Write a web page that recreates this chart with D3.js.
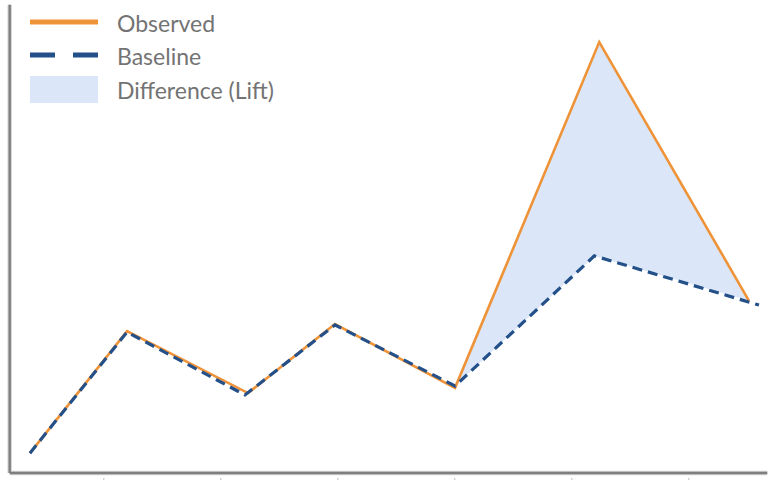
<!DOCTYPE html>
<html>
<head>
<meta charset="utf-8">
<script src="https://cdn.jsdelivr.net/npm/d3@7"></script>
<style>
  body { margin: 0; background: #fff; }
  svg { display: block; }
</style>
</head>
<body>
<svg id="svg"></svg>
<script>
// Values (x in tick units, y in percent of plot height)
const observedX = [0.373, 1.203, 2.237, 2.98, 4.006, 5.239, 6.519];
const observedY = [4.2, 30.0, 16.9, 31.5, 18.0, 91.1, 36.4];
const baselineX = [0.373, 1.203, 2.211, 2.98, 4.006, 5.197, 6.604];
const baselineY = [4.2, 29.8, 16.5, 31.3, 18.4, 45.9, 35.5];
const liftStart = 4; // lift area begins at the fifth point
const tickValues = [1, 2, 3, 4, 5, 6];
const legendLabels = ["Observed", "Baseline", "Difference (Lift)"];

const width = 777;
const height = 481;

const svg = d3.select("#svg")
  .attr("width", width)
  .attr("height", height);

const x = d3.scaleLinear().domain([0, 6]).range([-13.7, 688.3]);
const y = d3.scaleLinear().domain([0, 100]).range([473, 0]);

const observed = observedX.map((v, i) => ({ x: v, y: observedY[i] }));
const baseline = baselineX.map((v, i) => ({ x: v, y: baselineY[i] }));

const line = d3.line().x(d => x(d.x)).y(d => y(d.y));

// Lift area: observed forward, baseline back
const liftPts = observed.slice(liftStart).concat(baseline.slice(liftStart, baseline.length - 1).reverse());
svg.append("path")
  .attr("d", line(liftPts) + "Z")
  .attr("fill", "#dbe7f9");

svg.append("path")
  .attr("d", line(observed))
  .attr("fill", "none")
  .attr("stroke", "#ef9338")
  .attr("stroke-width", 2.6);

svg.append("path")
  .attr("d", line(baseline))
  .attr("fill", "none")
  .attr("stroke", "#24508a")
  .attr("stroke-width", 3.2)
  .attr("stroke-dasharray", "10,6");

// Axes (plain frame lines, soft grey edges)
const frame = svg.append("g");
[["#d4d4d4", 4.5], ["#7f7f7f", 2.4]].forEach(([c, w]) => {
  frame.append("line")
    .attr("x1", x(0.2)).attr("x2", x(0.2))
    .attr("y1", y(99)).attr("y2", y(0))
    .attr("stroke", c).attr("stroke-width", w);
  frame.append("line")
    .attr("x1", x(0.2)).attr("x2", x(6.675))
    .attr("y1", y(0)).attr("y2", y(0))
    .attr("stroke", c).attr("stroke-width", w);
});

const xAxis = svg.append("g")
  .attr("transform", "translate(0,478)")
  .call(d3.axisBottom(x).tickValues(tickValues).tickSize(2).tickFormat(""));
xAxis.select(".domain").remove();
xAxis.selectAll(".tick line").attr("stroke", "#bdbdbd");

// Legend
const legend = svg.append("g").attr("transform", "translate(30,0)");
const rowY = [22, 55, 89];

legend.append("line")
  .attr("x1", 0).attr("x2", 68).attr("y1", rowY[0]).attr("y2", rowY[0])
  .attr("stroke", "#ef9338").attr("stroke-width", 5);
legend.append("line")
  .attr("x1", 0).attr("x2", 68).attr("y1", rowY[1]).attr("y2", rowY[1])
  .attr("stroke", "#24508a").attr("stroke-width", 5)
  .attr("stroke-dasharray", "25,18");
legend.append("rect")
  .attr("x", 0).attr("y", rowY[2] - 13).attr("width", 68).attr("height", 27)
  .attr("fill", "#dbe7f9");

legend.selectAll("text")
  .data(legendLabels)
  .enter()
  .append("text")
  .attr("x", 87)
  .attr("y", (d, i) => rowY[i] + 10)
  .attr("font-family", "Lato, sans-serif")
  .attr("font-size", 23)
  .attr("fill", "#737373")
  .text(d => d);
</script>
</body>
</html>
